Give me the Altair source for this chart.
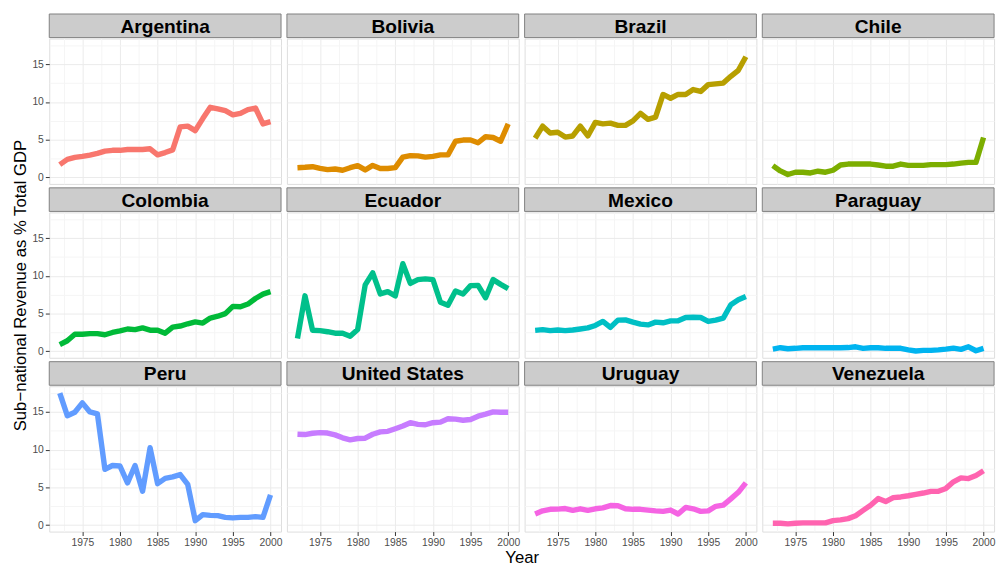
import altair as alt
import pandas as pd

years = list(range(1972, 2001))

countries = ["Argentina", "Bolivia", "Brazil", "Chile", "Colombia", "Ecuador",
             "Mexico", "Paraguay", "Peru", "United States", "Uruguay", "Venezuela"]

colors = ["#F8766D", "#DE8C00", "#B79F00", "#7CAE00", "#00BA38", "#00C08B",
          "#00BFC4", "#00B4F0", "#619CFF", "#C77CFF", "#F564E3", "#FF64B0"]

argentina = [1.7, 2.4, 2.66, 2.8, 2.97, 3.2, 3.5, 3.6, 3.6, 3.7, 3.7, 3.7, 3.8, 3.0, 3.3,
             3.66, 6.7, 6.8, 6.2, 7.8, 9.3, 9.1, 8.85, 8.3, 8.5, 9.0, 9.2, 7.1, 7.4]
bolivia = [1.3, 1.35, 1.43, 1.2, 1.04, 1.13, 0.96, 1.3, 1.57, 1.0, 1.6, 1.2, 1.2, 1.3, 2.7,
           2.9, 2.87, 2.7, 2.8, 3.0, 3.0, 4.8, 4.96, 4.96, 4.6, 5.4, 5.3, 4.8, 7.1]
brazil = [5.2, 6.8, 5.9, 6.0, 5.35, 5.5, 6.8, 5.5, 7.3, 7.1, 7.2, 6.9, 6.9, 7.5, 8.5,
          7.7, 8.0, 11.0, 10.5, 11.0, 11.0, 11.65, 11.4, 12.3, 12.4, 12.5, 13.4, 14.2, 16.0]
chile = [1.57, 0.87, 0.4, 0.7, 0.7, 0.6, 0.83, 0.7, 0.96, 1.65, 1.78, 1.78, 1.78, 1.78, 1.65,
         1.5, 1.5, 1.78, 1.6, 1.6, 1.6, 1.7, 1.7, 1.7, 1.78, 1.9, 2.0, 2.0, 5.3]
colombia = [0.9, 1.4, 2.26, 2.26, 2.35, 2.35, 2.2, 2.5, 2.7, 2.96, 2.87, 3.1, 2.8, 2.8, 2.4,
            3.2, 3.35, 3.65, 3.9, 3.74, 4.4, 4.65, 5.0, 5.96, 5.9, 6.26, 7.0, 7.57, 7.9]
ecuador = [1.7, 7.35, 2.8, 2.74, 2.6, 2.4, 2.4, 2.0, 2.9, 8.8, 10.4, 7.6, 7.9, 7.35, 11.6,
           9.0, 9.5, 9.6, 9.5, 6.5, 6.1, 8.0, 7.6, 8.7, 8.74, 7.1, 9.5, 8.87, 8.3]
mexico = [2.78, 2.87, 2.74, 2.83, 2.74, 2.83, 2.96, 3.1, 3.43, 3.96, 3.17, 4.13, 4.17, 3.87, 3.6,
          3.5, 3.87, 3.78, 4.04, 4.04, 4.48, 4.52, 4.48, 3.96, 4.13, 4.4, 6.17, 6.83, 7.26]
paraguay = [0.3, 0.48, 0.35, 0.4, 0.48, 0.48, 0.48, 0.48, 0.48, 0.48, 0.5, 0.6, 0.4, 0.48, 0.48,
            0.4, 0.4, 0.4, 0.2, 0.05, 0.13, 0.13, 0.2, 0.3, 0.43, 0.26, 0.6, 0.08, 0.4]
peru = [17.5, 14.5, 14.96, 16.2, 15.0, 14.74, 7.4, 7.9, 7.83, 5.6, 7.9, 4.5, 10.26, 5.5, 6.2,
        6.4, 6.7, 5.4, 0.6, 1.4, 1.3, 1.26, 1.04, 0.96, 1.04, 1.04, 1.13, 1.04, 4.0]
united_states = [12.04, 12.0, 12.17, 12.26, 12.2, 11.96, 11.57, 11.3, 11.48, 11.52, 12.04, 12.35,
                 12.43, 12.78, 13.13, 13.57, 13.35, 13.3, 13.57, 13.65, 14.1, 14.04, 13.9, 14.0,
                 14.43, 14.7, 15.0, 14.96, 14.96]
uruguay = [1.48, 1.9, 2.1, 2.13, 2.2, 1.96, 2.17, 1.96, 2.17, 2.3, 2.6, 2.57, 2.17, 2.1, 2.1,
           2.0, 1.9, 1.83, 2.0, 1.48, 2.35, 2.17, 1.83, 1.9, 2.5, 2.65, 3.48, 4.35, 5.6]
venezuela = [0.26, 0.26, 0.17, 0.26, 0.3, 0.3, 0.3, 0.3, 0.6, 0.7, 0.87, 1.26, 1.96, 2.65, 3.52,
             3.13, 3.65, 3.74, 3.9, 4.09, 4.26, 4.48, 4.48, 4.87, 5.74, 6.26, 6.17, 6.57, 7.2]

series = [argentina, bolivia, brazil, chile, colombia, ecuador, mexico, paraguay,
          peru, united_states, uruguay, venezuela]

x_major = [1975, 1980, 1985, 1990, 1995, 2000]
x_minor = [1972.5, 1977.5, 1982.5, 1987.5, 1992.5, 1997.5]
y_major = [0, 5, 10, 15]
y_minor = [2.5, 7.5, 12.5, 17.5]

W, H = 236, 148
FONT = "Liberation Sans"
major_test = "datum.value % 5 === 0"
grid_color = {"condition": {"test": major_test, "value": "#EBEBEB"}, "value": "#F5F5F5"}
tick_op = {"condition": {"test": major_test, "value": 1}, "value": 0}

x_scale = alt.Scale(domain=[1970.6, 2001.4], nice=False, zero=False)
y_scale = alt.Scale(domain=[-0.85, 18.4], nice=False, zero=False)


def make_axis(values, show_labels, title=None, **kw):
    common = dict(values=values, format="d", gridColor=grid_color, domain=False,
                  tickColor="#333333", tickSize=4, labelColor="#4D4D4D",
                  labelFontSize=10.5, labelFont=FONT, labelPadding=2,
                  titleFont=FONT, titleFontSize=17, titleFontWeight="normal",
                  titleColor="black", **kw)
    common["title"] = title if title is not None else ""
    if show_labels:
        return alt.Axis(labelExpr="datum.value % 5 === 0 ? datum.label : ''",
                        tickOpacity=tick_op, **common)
    return alt.Axis(labels=False, ticks=False, **common)


def panel(i):
    c = countries[i]
    col, row = i % 4, i // 4
    df = pd.DataFrame({"country": c, "year": years, "value": series[i]})
    xt = "Year" if (row == 2 and col == 1) else None
    yt = "Sub\u2212national Revenue as % Total GDP" if (row == 1 and col == 0) else None
    xkw = {"titleX": W + 3, "titlePadding": 2} if xt else {}
    ykw = {"titlePadding": 3} if yt else {}
    xa = make_axis(sorted(x_major + x_minor), row == 2, xt, **xkw)
    ya = make_axis(sorted(y_major + y_minor), col == 0, yt, **ykw)
    base = alt.Chart(df)
    line = base.mark_line(strokeWidth=5.5, strokeJoin="round", color=colors[i]).encode(
        x=alt.X("year:Q", scale=x_scale, axis=xa),
        y=alt.Y("value:Q", scale=y_scale, axis=ya),
    )
    strip = base.transform_filter("datum.year == 1972").mark_rect(
        fill="#CCCCCC", stroke="#7F7F7F", strokeWidth=1
    ).encode(x=alt.value(0), x2=alt.value(W), y=alt.value(-25), y2=alt.value(-1))
    label = base.transform_filter("datum.year == 1972").mark_text(
        font=FONT, fontSize=19.5, fontWeight="bold", color="black",
        baseline="middle", align="center"
    ).encode(x=alt.value(W / 2), y=alt.value(-12), text="country:N")
    return alt.layer(line, strip, label).properties(width=W, height=H)


chart = alt.concat(*[panel(i) for i in range(12)], columns=4,
                   spacing={"row": 29, "column": 6}, bounds="flush").properties(
    padding={"left": 2, "top": 0, "right": 2, "bottom": 0},
).configure_view(
    stroke="#7F7F7F", strokeWidth=1
).configure(background="white")

chart.save("out.html", embed_options={"renderer": "svg", "actions": False})
